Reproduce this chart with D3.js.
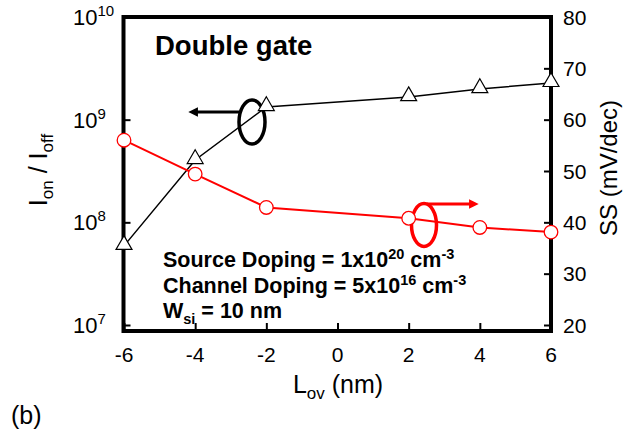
<!DOCTYPE html>
<html>
<head>
<meta charset="utf-8">
<script src="https://cdn.jsdelivr.net/npm/d3@7"></script>
<style>
  body { margin: 0; background: #fff; }
  svg text { font-family: "Liberation Sans", Arial, sans-serif; fill: #000; }
</style>
</head>
<body>
<div id="chart"></div>
<script>
// overlap length (nm)
var lov = [-6, -4, -2, 2, 4, 6];
// Ion / Ioff ratio (left, log)
var ratio = [5.9e7, 4.05e8, 1.33e9, 1.66e9, 1.99e9, 2.28e9];
// subthreshold swing SS (mV/dec, right)
var ss = [56.0, 49.4, 42.9, 40.8, 39.0, 38.1];

var xTicks = [-6, -4, -2, 0, 2, 4, 6];
var leftExp = [7, 8, 9, 10];
var rightTicks = [20, 30, 40, 50, 60, 70, 80];

var width = 630, height = 435;
var frame = {left: 123.5, right: 551, top: 17, bottom: 331};

var svg = d3.select("#chart").append("svg")
  .attr("width", width)
  .attr("height", height);

var xScale = d3.scaleLinear().domain([-6, 6]).range([124, 551]);
var yLeft = d3.scaleLog().domain([1e7, 1e10]).range([325, 17]);
var yRight = d3.scaleLinear().domain([20, 80]).range([325, 17]);

// ticks (pointing inward)
var axL = svg.append("g")
  .attr("transform", "translate(" + frame.left + ",0)")
  .call(d3.axisRight(yLeft).tickValues(leftExp.map(function(e) { return Math.pow(10, e); })).tickSize(7).tickFormat(""));
var axR = svg.append("g")
  .attr("transform", "translate(" + frame.right + ",0)")
  .call(d3.axisLeft(yRight).tickValues(rightTicks).tickSize(7).tickFormat(""));
var axB = svg.append("g")
  .attr("transform", "translate(0," + frame.bottom + ")")
  .call(d3.axisTop(xScale).tickValues(xTicks).tickSize(8).tickFormat(""));
[axL, axR, axB].forEach(function(a) {
  a.select(".domain").remove();
  a.selectAll("line").attr("stroke", "#000").attr("stroke-width", 2);
});

// frame
svg.append("rect")
  .attr("x", frame.left)
  .attr("y", frame.top)
  .attr("width", frame.right - frame.left)
  .attr("height", frame.bottom - frame.top)
  .attr("fill", "none")
  .attr("stroke", "#000")
  .attr("stroke-width", 4);

// tick labels
svg.selectAll(".xlab").data(xTicks).enter().append("text")
  .attr("class", "xlab")
  .attr("x", function(d) { return xScale(d); })
  .attr("y", 362)
  .attr("text-anchor", "middle")
  .style("font-size", "21px")
  .text(function(d) { return d; });

var ll = svg.selectAll(".ylab").data(leftExp).enter().append("text")
  .attr("class", "ylab")
  .attr("x", 73)
  .attr("y", function(d) { return yLeft(Math.pow(10, d)) + 8; })
  .style("font-size", "22px");
ll.append("tspan").text("10");
ll.append("tspan").attr("dy", -9).style("font-size", "15px").text(function(d) { return d; });

svg.selectAll(".rlab").data(rightTicks).enter().append("text")
  .attr("class", "rlab")
  .attr("x", 563)
  .attr("y", function(d) { return yRight(d) + 7.5; })
  .style("font-size", "21px")
  .text(function(d) { return d; });

// axis titles
var tl = svg.append("text")
  .attr("transform", "translate(47,170) rotate(-90)")
  .attr("text-anchor", "middle")
  .style("font-size", "25px");
tl.append("tspan").text("I");
tl.append("tspan").attr("dy", 6).style("font-size", "17px").text("on");
tl.append("tspan").attr("dy", -6).text(" / I");
tl.append("tspan").attr("dy", 6).style("font-size", "17px").text("off");

svg.append("text")
  .attr("transform", "translate(617,168) rotate(-90)")
  .attr("text-anchor", "middle")
  .style("font-size", "24px")
  .text("SS (mV/dec)");

var tb = svg.append("text")
  .attr("x", 338)
  .attr("y", 393)
  .attr("text-anchor", "middle")
  .style("font-size", "25px");
tb.append("tspan").text("L");
tb.append("tspan").attr("dy", 6).style("font-size", "17px").text("ov");
tb.append("tspan").attr("dy", -6).text(" (nm)");

svg.append("text")
  .attr("x", 11)
  .attr("y", 424)
  .style("font-size", "25px")
  .text("(b)");

// annotations
svg.append("text")
  .attr("x", 155)
  .attr("y", 55)
  .style("font-size", "27.5px")
  .style("font-weight", "bold")
  .text("Double gate");

var notes = [
  [["Source Doping = 1x10", 0], ["20", 1], [" cm", 0], ["-3", 1]],
  [["Channel Doping = 5x10", 0], ["16", 1], [" cm", 0], ["-3", 1]],
  [["W", 0], ["si", 2], [" = 10 nm", 0]]
];
notes.forEach(function(parts, i) {
  var t = svg.append("text")
    .attr("x", 163)
    .attr("y", 267 + i * 25.5)
    .style("font-size", "21.5px")
    .style("font-weight", "bold");
  var shift = 0;
  parts.forEach(function(p) {
    var target = p[1] === 1 ? -8 : (p[1] === 2 ? 6 : 0);
    t.append("tspan")
      .attr("dy", target - shift)
      .style("font-size", p[1] ? "14.5px" : "21.5px")
      .text(p[0]);
    shift = target;
  });
});

// arrows and ellipses
var defs = svg.append("defs");
[["headK", "#000"], ["headR", "#ff0000"]].forEach(function(m) {
  defs.append("marker")
    .attr("id", m[0])
    .attr("viewBox", "0 0 10 10")
    .attr("refX", 2)
    .attr("refY", 5)
    .attr("markerWidth", 3.8)
    .attr("markerHeight", 3.2)
    .attr("orient", "auto")
    .append("path")
    .attr("d", "M0,0L10,5L0,10Z")
    .attr("fill", m[1]);
});

svg.append("line")
  .attr("x1", 239).attr("y1", 112)
  .attr("x2", 196).attr("y2", 112)
  .attr("stroke", "#000").attr("stroke-width", 3)
  .attr("marker-end", "url(#headK)");
svg.append("ellipse")
  .attr("cx", 252).attr("cy", 122)
  .attr("rx", 13).attr("ry", 22)
  .attr("fill", "none").attr("stroke", "#000").attr("stroke-width", 3.5);

svg.append("line")
  .attr("x1", 427).attr("y1", 204)
  .attr("x2", 471).attr("y2", 204)
  .attr("stroke", "#ff0000").attr("stroke-width", 3)
  .attr("marker-end", "url(#headR)");
svg.append("ellipse")
  .attr("cx", 424).attr("cy", 225)
  .attr("rx", 12.5).attr("ry", 21.5)
  .attr("fill", "none").attr("stroke", "#ff0000").attr("stroke-width", 3.5);

// series: Ion/Ioff
var lineL = d3.line()
  .x(function(d, i) { return xScale(lov[i]); })
  .y(function(d) { return yLeft(d); });
svg.append("path")
  .attr("d", lineL(ratio))
  .attr("fill", "none")
  .attr("stroke", "#000")
  .attr("stroke-width", 1.5);
var tri = d3.symbol().type(d3.symbolTriangle).size(110);
svg.selectAll(".tri").data(ratio).enter().append("path")
  .attr("class", "tri")
  .attr("d", tri)
  .attr("transform", function(d, i) { return "translate(" + xScale(lov[i]) + "," + (yLeft(d) - 1) + ")"; })
  .attr("fill", "#fff")
  .attr("stroke", "#000")
  .attr("stroke-width", 1.2);

// series: SS
var lineR = d3.line()
  .x(function(d, i) { return xScale(lov[i]); })
  .y(function(d) { return yRight(d); });
svg.append("path")
  .attr("d", lineR(ss))
  .attr("fill", "none")
  .attr("stroke", "#ff0000")
  .attr("stroke-width", 2);
svg.selectAll(".circ").data(ss).enter().append("circle")
  .attr("class", "circ")
  .attr("cx", function(d, i) { return xScale(lov[i]); })
  .attr("cy", function(d) { return yRight(d); })
  .attr("r", 6.8)
  .attr("fill", "#fff")
  .attr("stroke", "#ff0000")
  .attr("stroke-width", 1.3);
</script>
</body>
</html>
